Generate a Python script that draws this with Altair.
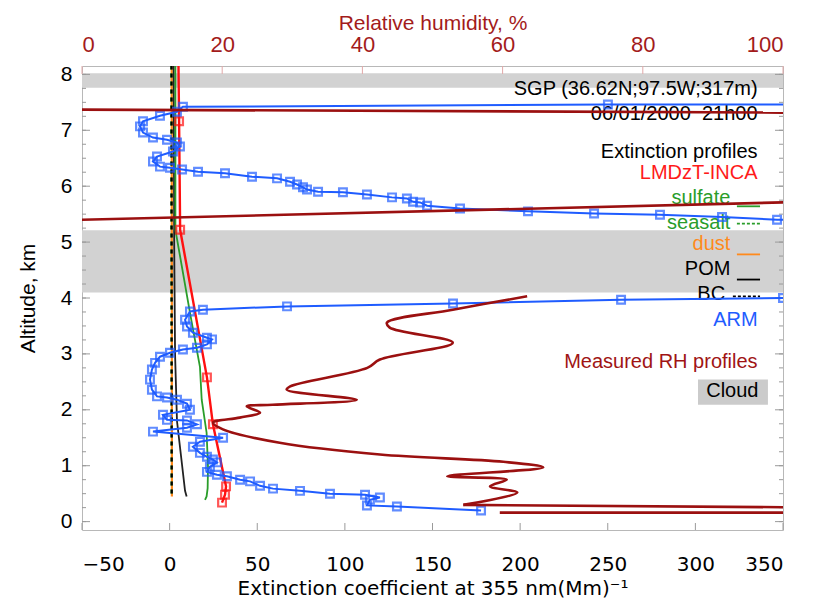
import altair as alt
import pandas as pd

# ---------------- data ----------------
# ARM measured extinction profile (altitude km, extinction Mm-1), top to bottom
arm_alt = [7.46, 7.46, 7.42, 7.33, 7.26, 7.16, 7.07, 6.96, 6.87, 6.83,
           6.78, 6.71, 6.62, 6.53, 6.44, 6.35, 6.33, 6.30, 6.26, 6.23,
           6.17, 6.14, 6.08, 6.03, 5.98, 5.94, 5.90, 5.89, 5.85, 5.80,
           5.78, 5.72, 5.71, 5.65, 5.60, 5.55, 5.51, 5.49, 5.45, 5.40,
           5.36, 4.01, 4.00, 3.97, 3.90, 3.85, 3.79, 3.76, 3.61, 3.49,
           3.38, 3.29, 3.26, 3.17, 3.11, 3.08, 3.02, 2.95, 2.84, 2.72,
           2.54, 2.36, 2.24, 2.22, 2.18, 2.11, 2.00, 1.91, 1.82, 1.81,
           1.74, 1.68, 1.61, 1.50, 1.43, 1.34, 1.23, 1.16, 1.11, 1.06,
           0.98, 0.89, 0.84, 0.81, 0.75, 0.72, 0.64, 0.59, 0.55, 0.50,
           0.48, 0.43, 0.39, 0.29, 0.27, 0.20]
arm_ext = [430, 250.1, 7.6, 4.2, -5.5, -15.2, -16.9, -15.2, -9.5, -1.5,
           4.2, 5.9, 1.9, -7.2, -9.5, -5.5, 0.2, 7.1, 16.2, 31.6,
           47.0, 61.3, 68.7, 72.7, 76.1, 78.4, 84.7, 98.9, 112.6, 126.9,
           135.4, 138.9, 142.9, 146.9, 165.7, 204.5, 242.2, 279.8, 315.2, 346.6,
           430, 430, 350, 257.6, 161.7, 67.0, 19.0, 11.6, 8.8, 9.9,
           13.3, 21.3, 24.2, 21.3, 15.6, 7.6, 0.2, -5.5, -8.3, -10.1,
           -11.2, -10.1, -7.2, -1.5, 4.2, 9.9, 11.6, -3.8, -1.5, 9.9,
           15.6, 9.9, -9.5, 30.5, 17.3, 13.3, 17.3, 21.3, 24.7, 27.0,
           23.0, 21.3, 27.0, 32.7, 40.2, 45.9, 51.6, 59.0, 74.4, 91.5,
           111.5, 120.0, 114.3, 112.6, 129.7, 177.7]

# LMDzT-INCA total extinction
inca_alt = [8.30, 7.16, 5.22, 2.58, 1.74, 0.63, 0.48, 0.34]
inca_ext = [5.0, 5.4, 6.0, 21.3, 24.7, 32.2, 31.6, 29.9]

# components
sulf_alt = [8.30, 5.22, 3.74, 2.77, 2.18, 1.59, 0.98, 0.60, 0.45, 0.39]
sulf_ext = [3.3, 3.3, 11.6, 17.3, 18.3, 21.1, 21.9, 21.7, 21.1, 20.2]
pom_alt = [8.30, 5.00, 3.00, 1.80, 0.55, 0.45]
pom_ext = [2.3, 2.6, 3.1, 4.2, 8.8, 9.7]
dust_alt = [8.30, 0.45]
dust_ext = [1.2, 1.3]
salt_alt = [8.30, 0.45]
salt_ext = [0.9, 1.1]
bc_alt = [8.30, 0.45]
bc_ext = [1.1, 1.2]

# measured relative humidity profile (%, km)
rh_alt = [4.03, 3.79, 3.56, 3.47, 3.20, 2.90, 2.75, 2.42, 2.36, 2.18,
          2.09, 2.06, 1.95, 1.86, 1.77, 1.65, 1.41, 1.20, 1.07, 0.97,
          0.81, 0.75, 0.63, 0.52, 0.30]
rh_val = [63.5, 52.9, 43.5, 43.9, 52.9, 42.5, 40.7, 29.7, 29.2, 39.2,
          27.2, 23.5, 25.4, 22.5, 18.7, 20.1, 28.2, 42.5, 60.1, 65.8,
          52.1, 60.6, 58.2, 62.1, 54.4]
rh_tail_alt = [0.30, 0.22, 0.16, 0.16]
rh_tail_val = [54.4, 140, 140, 59.6]
rh_cross_seg = ["a", "a", "b", "b"]
rh_cross_alt = [5.338, 5.772, 7.381, 7.306]
rh_cross_val = [-20, 120, -20, 120]

# cloud layers (km)
cloud_lo = [7.76, 4.10]
cloud_hi = [8.02, 5.21]

# annotation texts
note_text = ["SGP (36.62N;97.5W;317m)", "06/01/2000\u00a0\u00a021h00", "Extinction profiles",
             "LMDzT-INCA", "sulfate", "seasalt", "dust", "POM", "BC", "ARM",
             "Measured RH profiles", "Cloud"]
note_color = ["black", "black", "black", "#ff1a1a", "#2a9d2a", "#2a9d2a", "#ff8a1c",
              "black", "black", "#1f5cff", "#a01414", "black"]
note_alt = [7.73, 7.30, 6.62, 6.23, 5.78, 5.35, 4.96, 4.51, 4.08, 3.61, 2.86, 2.33]
note_ext = [335.5, 335.5, 335.5, 335.5, 320, 320, 320, 320, 317, 335.5, 335.5, 336]

# legend line samples
samp_color = ["#2a9d2a", "#ff8a1c", "black"]
samp_alt = [5.64, 4.78, 4.33]
samp_x1 = [323.7, 323.7, 323.7]
samp_x2 = [336.9, 336.9, 336.9]
dsamp_color = ["#2a9d2a", "black"]
dsamp_alt = [5.33, 4.03]
dsamp_x1 = [323.7, 321.4]
dsamp_x2 = [336.9, 336.9]
cloudbox = {"x1": [301.5], "x2": [341.4], "y1": [2.09], "y2": [2.54]}

ext_ticks = [-50, 0, 50, 100, 150, 200, 250, 300, 350]
rh_ticks = [0, 20, 40, 60, 80, 100]
alt_major = [0, 1, 2, 3, 4, 5, 6, 7, 8]
alt_minor = [i * 0.25 for i in range(33)]

# ---------------- scales / axes ----------------
W, H = 701, 464
ext_scale = alt.Scale(domain=[-50, 350], nice=False, zero=False)
rh_scale = alt.Scale(domain=[0, 100], nice=False, zero=False)
y_scale = alt.Scale(domain=[-0.15, 8.15], nice=False, zero=False)

ext_axis = alt.Axis(title="Extinction coefficient at 355 nm(Mm)⁻¹", values=ext_ticks,
                    orient="bottom", ticks=False, domain=False, grid=False,
                    labelFont="DejaVu Sans", labelFontSize=20, labelColor="black",
                    labelPadding=24, titleFont="DejaVu Sans", titleFontSize=20,
                    titleFontWeight="normal", titleColor="black", titlePadding=4)
y_axis = alt.Axis(title="Altitude, km", values=alt_major, orient="left", ticks=False,
                  domain=False, grid=False, labelFont="Liberation Sans", labelFontSize=21,
                  labelColor="black", labelPadding=10, titleFont="Liberation Sans",
                  titleFontSize=21, titleFontWeight="normal", titleColor="black",
                  titlePadding=22)
rh_axis = alt.Axis(title="Relative humidity, %", values=rh_ticks, orient="top", ticks=False,
                   domain=False, grid=False, labelFont="Liberation Sans", labelFontSize=22,
                   labelColor="#a31b1b", labelPadding=10, titleFont="Liberation Sans",
                   titleFontSize=21, titleFontWeight="normal", titleColor="#a31b1b",
                   titlePadding=0)


def X(f):
    return alt.X(f"{f}:Q", scale=ext_scale, axis=ext_axis)


def X2(f):
    return alt.X2(f"{f}:Q")


def Y(f):
    return alt.Y(f"{f}:Q", scale=y_scale, axis=y_axis)


def prof(a, e):
    return pd.DataFrame({"alt": a, "ext": e, "i": list(range(len(a)))})


# ---------------- ext layers ----------------
bands = alt.Chart(pd.DataFrame({"lo": cloud_lo, "hi": cloud_hi})).mark_rect(
    color="#d2d2d2").encode(y=Y("lo"), y2=alt.Y2("hi:Q"))

box = alt.Chart(pd.DataFrame(cloudbox)).mark_rect(color="#cbcbcb").encode(
    x=X("x1"), x2=X2("x2"), y=Y("y1"), y2=alt.Y2("y2:Q"))

notes = alt.Chart(pd.DataFrame({"t": note_text, "c": note_color, "y": note_alt,
                                "x": note_ext})).mark_text(
    align="right", baseline="middle", font="Liberation Sans", fontSize=20).encode(
    x=X("x"), y=Y("y"), text="t:N", color=alt.Color("c:N", scale=None))

samp = alt.Chart(pd.DataFrame({"c": samp_color, "y": samp_alt, "x1": samp_x1,
                               "x2": samp_x2})).mark_rule(strokeWidth=1.8).encode(
    x=X("x1"), x2=X2("x2"), y=Y("y"), color=alt.Color("c:N", scale=None))
dsamp = alt.Chart(pd.DataFrame({"c": dsamp_color, "y": dsamp_alt, "x1": dsamp_x1,
                                "x2": dsamp_x2})).mark_rule(
    strokeWidth=1.8, strokeDash=[3, 2]).encode(
    x=X("x1"), x2=X2("x2"), y=Y("y"), color=alt.Color("c:N", scale=None))


def line(a, e, color, width=1.8, dash=None):
    kw = dict(color=color, strokeWidth=width, clip=True)
    if dash:
        kw["strokeDash"] = dash
    return alt.Chart(prof(a, e)).mark_line(**kw).encode(
        x=X("ext"), y=Y("alt"), order="i:Q")


dust = line(dust_alt, dust_ext, "#ff8a1c", 2.2)
salt = line(salt_alt, salt_ext, "#2a9d2a", 2.2, [4, 4])
bc = line(bc_alt, bc_ext, "black", 2.2, [4, 4])
pom = line(pom_alt, pom_ext, "#222222", 1.8)
sulf = line(sulf_alt, sulf_ext, "#2a9d2a", 1.8)
inca = line(inca_alt, inca_ext, "#ff1010", 2.4)
inca_pts = alt.Chart(prof(inca_alt, inca_ext)).mark_point(
    shape="square", filled=False, color="#ff1010", size=60, strokeWidth=2.2, clip=True).encode(
    x=X("ext"), y=Y("alt"))

arm = line(arm_alt, arm_ext, "#1f5cff", 2.0)
arm_pts = alt.Chart(prof(arm_alt, arm_ext)).mark_point(
    shape="square", filled=False, color="#1f5cff", size=60, strokeWidth=2.2, clip=True).encode(
    x=X("ext"), y=Y("alt"))

# inside ticks
tk = "#9a9a9a"
bot_ticks = alt.Chart(pd.DataFrame({"v": ext_ticks})).mark_rule(color=tk).encode(
    x=X("v"), y=alt.value(H), y2=alt.value(H - 7))
left_major = alt.Chart(pd.DataFrame({"v": alt_major})).mark_rule(color=tk).encode(
    y=Y("v"), x=alt.value(0), x2=alt.value(8))
left_minor = alt.Chart(pd.DataFrame({"v": alt_minor})).mark_rule(color=tk).encode(
    y=Y("v"), x=alt.value(0), x2=alt.value(4))
right_major = alt.Chart(pd.DataFrame({"v": alt_major})).mark_rule(color=tk).encode(
    y=Y("v"), x=alt.value(W - 8), x2=alt.value(W))
right_minor = alt.Chart(pd.DataFrame({"v": alt_minor})).mark_rule(color=tk).encode(
    y=Y("v"), x=alt.value(W - 4), x2=alt.value(W))

ext_group = alt.layer(bands, box, notes, samp, dsamp, bot_ticks, left_major, left_minor,
                      right_major, right_minor, dust, salt, bc, pom, sulf, inca, inca_pts,
                      arm, arm_pts)

# ---------------- RH layers ----------------
RHC = "#9b1010"
XR = alt.X("rh:Q", scale=rh_scale, axis=rh_axis)
rh_main = alt.Chart(pd.DataFrame({"rh": rh_val, "alt": rh_alt, "i": list(range(len(rh_alt)))})
                    ).mark_line(color=RHC, strokeWidth=2.6, interpolate="catmull-rom",
                                clip=True).encode(x=XR, y=Y("alt"), order="i:Q")
rh_tail = alt.Chart(pd.DataFrame({"rh": rh_tail_val, "alt": rh_tail_alt,
                                  "i": list(range(len(rh_tail_alt)))})
                    ).mark_line(color=RHC, strokeWidth=2.6, clip=True).encode(
    x=XR, y=Y("alt"), order="i:Q")
rh_cross = alt.Chart(pd.DataFrame({"rh": rh_cross_val, "alt": rh_cross_alt,
                                   "s": rh_cross_seg})
                     ).mark_line(color=RHC, strokeWidth=2.6, clip=True).encode(
    x=XR, y=Y("alt"), detail="s:N")
top_ticks = alt.Chart(pd.DataFrame({"rh": rh_ticks})).mark_rule(color="#e2a8a8").encode(
    x=XR, y=alt.value(0), y2=alt.value(8))

rh_group = alt.layer(top_ticks, rh_cross, rh_tail, rh_main)

chart = alt.layer(ext_group, rh_group).resolve_scale(x="independent").properties(
    width=W, height=H,
    autosize=alt.AutoSizeParams(type="none"),
    padding={"left": 74, "top": 58, "right": 20, "bottom": 75},
).configure_view(stroke="#b8b8b8", strokeWidth=1)

chart.save("out.html", embed_options={"renderer": "svg", "actions": False})
